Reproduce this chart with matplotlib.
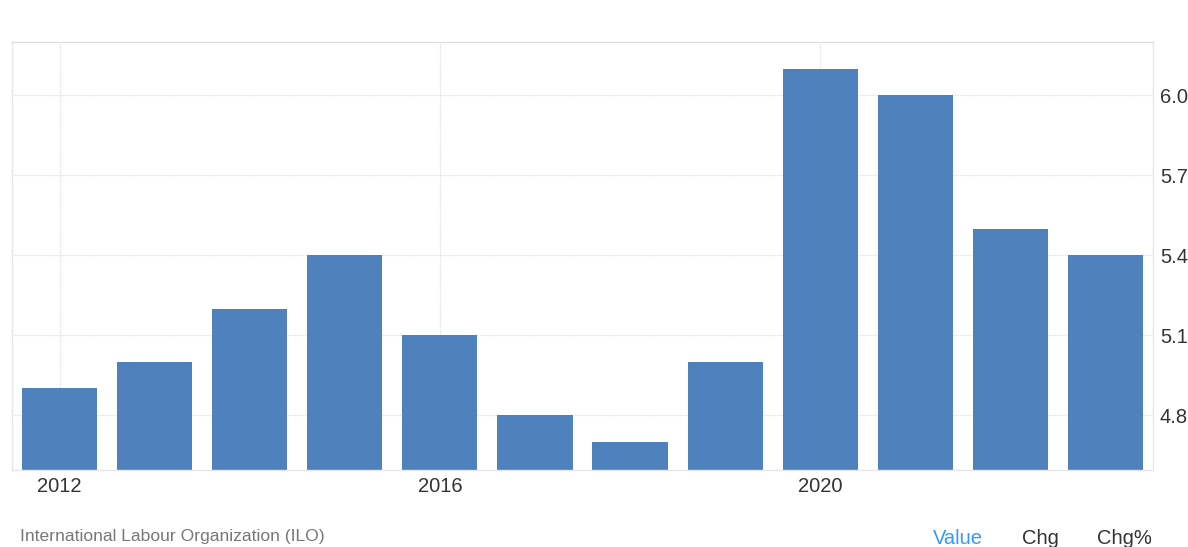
import numpy as np
import matplotlib.pyplot as plt

plt.rcParams['font.family'] = ['Liberation Sans', 'DejaVu Sans']

years = [2012, 2013, 2014, 2015, 2016, 2017, 2018, 2019, 2020, 2021, 2022, 2023]
values = [4.9, 5.0, 5.2, 5.4, 5.1, 4.8, 4.7, 5.0, 6.1, 6.0, 5.5, 5.4]
yticks = [4.8, 5.1, 5.4, 5.7, 6.0]
xlabel_years = [2012, 2016, 2020]

W, H = 1188, 547
fig = plt.figure(figsize=(W / 100, H / 100), dpi=100)
ax = fig.add_axes([12 / W, (H - 470) / H, (1153 - 12) / W, (470 - 42) / H])

x = np.arange(len(years))
ax.bar(x, values, width=0.79, color='#4f81bd', zorder=2)

ax.set_xlim(-0.5, len(years) - 0.5)
ax.set_ylim(4.594, 6.2)

ax.set_xticks([years.index(y) for y in xlabel_years])
ax.set_xticklabels([str(y) for y in xlabel_years])
ax.yaxis.tick_right()
ax.set_yticks(yticks)
ax.set_yticklabels(['%.1f' % v for v in yticks])
ax.tick_params(axis='both', length=0, labelsize=14.5, colors='#333333')
ax.tick_params(axis='y', pad=5)
ax.tick_params(axis='x', pad=5)

ax.grid(True, color='#dddddd', linestyle=(0, (1, 1)), linewidth=0.9)
ax.set_axisbelow(True)

for side in ['left', 'bottom', 'right']:
    ax.spines[side].set_color('#e6e6e6')
    ax.spines[side].set_linewidth(1)
ax.spines['top'].set_color('#dddddd')
ax.spines['top'].set_linestyle((0, (1, 1)))
ax.spines['top'].set_linewidth(0.9)

fig.text(20 / W, 1 - 537 / H, 'International Labour Organization (ILO)',
         fontsize=12.6, color='#777777', va='center', ha='left')
fig.text(933 / W, 1 - 538 / H, 'Value', fontsize=14.5, color='#3399ff', va='center', ha='left')
fig.text(1022 / W, 1 - 538 / H, 'Chg', fontsize=14.5, color='#333333', va='center', ha='left')
fig.text(1097 / W, 1 - 538 / H, 'Chg%', fontsize=14.5, color='#333333', va='center', ha='left')

fig.savefig('out.png', dpi=100)
